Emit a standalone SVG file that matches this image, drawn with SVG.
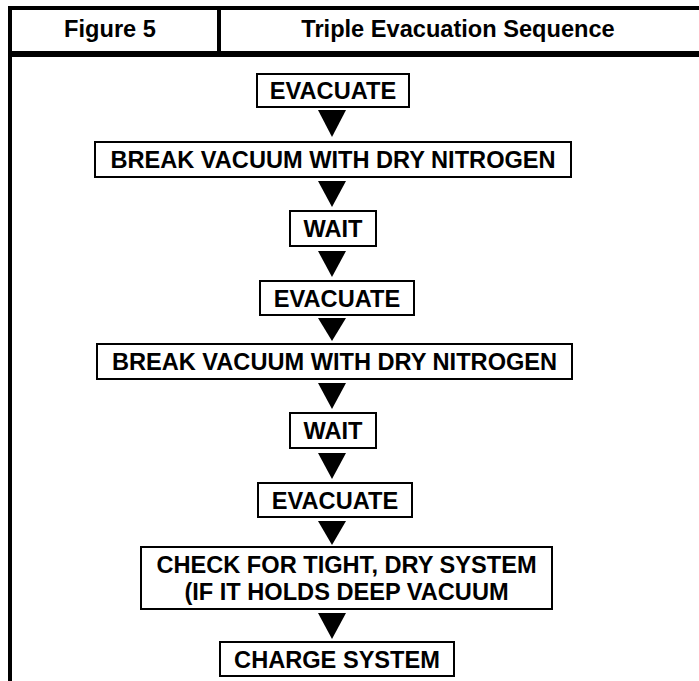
<svg xmlns="http://www.w3.org/2000/svg" width="699" height="681" viewBox="0 0 699 681">
<style>
.frame{stroke:#000;fill:none}
.box{fill:#fff;stroke:#000;stroke-width:2}
.t{font-family:"Liberation Sans",Arial,Helvetica,sans-serif;font-weight:bold;font-size:23.6px;fill:#000;text-anchor:middle}
.arr{fill:#000}
</style>
<rect width="699" height="681" fill="#fff"/>
<g id="header">
<line class="frame" x1="8" y1="8" x2="699" y2="8" stroke-width="4"/>
<line class="frame" x1="10" y1="6" x2="10" y2="681" stroke-width="4"/>
<line class="frame" x1="8" y1="54" x2="699" y2="54" stroke-width="6"/>
<line class="frame" x1="219" y1="8" x2="219" y2="54" stroke-width="4"/>
<text class="t" x="110" y="37">Figure 5</text>
<text class="t" x="458" y="37">Triple Evacuation Sequence</text>
</g>
<g id="connectors">
<polygon class="arr" points="318,110 346,110 332,137"/>
<polygon class="arr" points="318,181 346,181 332,207"/>
<polygon class="arr" points="318,251 346,251 332,277"/>
<polygon class="arr" points="318,318 346,318 332,341"/>
<polygon class="arr" points="318,383 346,383 332,409"/>
<polygon class="arr" points="318,453 346,453 332,479"/>
<polygon class="arr" points="318,521 346,521 332,545"/>
<polygon class="arr" points="318,613 346,613 332,639"/>
</g>
<g id="n1"><rect class="box" x="257" y="74" width="152" height="33"/><text class="t" x="333" y="99">EVACUATE</text></g>
<g id="n2"><rect class="box" x="95" y="142" width="476" height="35"/><text class="t" x="333" y="168">BREAK VACUUM WITH DRY NITROGEN</text></g>
<g id="n3"><rect class="box" x="290" y="211" width="86" height="35"/><text class="t" x="333" y="237">WAIT</text></g>
<g id="n4"><rect class="box" x="260" y="281" width="154" height="34"/><text class="t" x="337" y="306.5">EVACUATE</text></g>
<g id="n5"><rect class="box" x="97" y="344" width="475" height="35"/><text class="t" x="334.5" y="370">BREAK VACUUM WITH DRY NITROGEN</text></g>
<g id="n6"><rect class="box" x="290" y="413" width="86" height="35"/><text class="t" x="333" y="439">WAIT</text></g>
<g id="n7"><rect class="box" x="258" y="483" width="154" height="34"/><text class="t" x="335" y="508.5">EVACUATE</text></g>
<g id="n8"><rect class="box" x="141" y="547" width="411" height="62"/><text class="t" x="346.5" y="573">CHECK FOR TIGHT, DRY SYSTEM</text><text class="t" x="346.5" y="600">(IF IT HOLDS DEEP VACUUM</text></g>
<g id="n9"><rect class="box" x="220" y="642" width="234" height="34"/><text class="t" x="337" y="667.5">CHARGE SYSTEM</text></g>
</svg>
